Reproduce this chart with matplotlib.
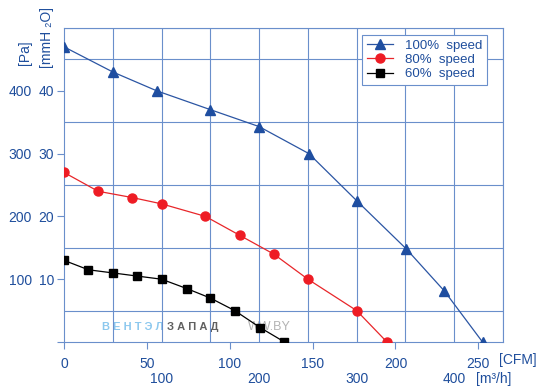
import matplotlib
matplotlib.use("Agg")
import matplotlib.pyplot as plt

plt.rcParams["font.family"] = ["Liberation Sans", "DejaVu Sans"]

# flow in m3/h, pressure in mmH2O
flow_100 = [0, 50, 95, 150, 200, 251, 300, 351, 390, 429]
pres_100 = [47, 43, 40, 37, 34.3, 30, 22.5, 14.8, 8.1, 0]

flow_80 = [0, 35, 70, 100, 145, 180, 215, 250, 300, 331]
pres_80 = [27, 24, 23, 22, 20, 17, 14, 10, 5, 0]

flow_60 = [0, 25, 50, 75, 100, 126, 150, 175, 201, 226]
pres_60 = [13, 11.5, 11, 10.5, 10, 8.5, 7, 5, 2.3, 0]

cfm_ticks = [0, 50, 100, 150, 200, 250]
m3h_ticks = [100, 200, 300, 400]
mm_ticks = [10, 20, 30, 40]
pa_ticks = [100, 200, 300, 400]

CFM_TO_M3H = 1.699
txt = "#1f4e9c"
grid_c = "#6a8fcb"

fig = plt.figure(figsize=(5.44, 3.92), dpi=100)
ax = fig.add_axes([64 / 544, 50 / 392, 439 / 544, 314 / 392])

ax.plot(flow_100, pres_100, color="#2b55a3", lw=0.9, marker="^", ms=6.5,
        mfc="#1f4ea0", mec="#1f4ea0", label="100%  speed", zorder=3)
ax.plot(flow_80, pres_80, color="#e8262a", lw=0.9, marker="o", ms=6.5,
        mfc="#ee1c24", mec="#ee1c24", label="80%  speed", zorder=3)
ax.plot(flow_60, pres_60, color="black", lw=0.9, marker="s", ms=6,
        label="60%  speed", zorder=3)

ax.set_xlim(0, 450)
ax.set_ylim(0, 50)

# grid every 50 m3/h and 5 mmH2O
ax.set_xticks(range(0, 451, 50), minor=True)
ax.set_yticks([v * 0.5 for v in range(0, 101, 10)], minor=True)
ax.grid(True, which="minor", color=grid_c, lw=0.8)
ax.tick_params(which="minor", length=0)

ax.set_xticks([c * CFM_TO_M3H for c in cfm_ticks])
ax.set_xticklabels([str(c) for c in cfm_ticks])
ax.set_yticks([0] + mm_ticks)
ax.set_yticklabels([""] + [str(v) for v in mm_ticks])
ax.tick_params(which="major", colors=grid_c, labelcolor=txt, labelsize=10,
               length=5, width=0.8)
ax.tick_params(axis="x", pad=6)
ax.tick_params(axis="y", pad=2)
for s in ax.spines.values():
    s.set_color(grid_c)
    s.set_linewidth(0.8)

ax.text((499 - 64) / 439, -0.035, "[CFM]", transform=ax.transAxes, color=txt,
        fontsize=10, ha="left", va="top")

sec_x = ax.secondary_xaxis(-0.095)
sec_x.set_xticks(m3h_ticks)
sec_x.set_xticklabels([str(v) for v in m3h_ticks])
sec_x.tick_params(length=0, labelcolor=txt, labelsize=10, pad=0)
sec_x.spines["bottom"].set_visible(False)
ax.text((476 - 64) / 439, -0.095, "[m³/h]", transform=ax.transAxes, color=txt,
        fontsize=10, ha="left", va="top")

sec_y = ax.secondary_yaxis(-0.073, functions=(lambda m: m * 10, lambda p: p / 10))
sec_y.set_yticks(pa_ticks)
sec_y.set_yticklabels([str(v) for v in pa_ticks])
sec_y.tick_params(length=0, labelcolor=txt, labelsize=10, pad=0)
sec_y.spines["left"].set_visible(False)

fig.text(25 / 544, 1 - 53 / 392, "[Pa]", rotation=90, color=txt, fontsize=10,
         ha="center", va="center")
fig.text(47 / 544, 1 - 37 / 392, "[mmH ₂O]", rotation=90, color=txt, fontsize=10,
         ha="center", va="center")

# watermark
ax.text(38 / 439, 15 / 314, "В Е Н Т Э Л", transform=ax.transAxes,
        color="#8cc8ee", fontsize=8, fontweight="bold", va="center", zorder=1)
ax.text(103 / 439, 15 / 314, "З А П А Д", transform=ax.transAxes,
        color="#606060", fontsize=8, fontweight="bold", va="center", zorder=1)
ax.text(184 / 439, 15 / 314, "WW.BY", transform=ax.transAxes,
        color="#a0a0a0", fontsize=9, va="center", alpha=0.8, zorder=1)

leg = ax.legend(loc="upper right", bbox_to_anchor=(0.964, 0.978),
                borderaxespad=0, fancybox=False, fontsize=9.5,
                handlelength=2.0, labelspacing=0.15, borderpad=0.35,
                handletextpad=0.9, labelcolor=txt, framealpha=1)
leg.get_frame().set_edgecolor(grid_c)
leg.get_frame().set_linewidth(0.8)

fig.savefig("out.png", dpi=100)
